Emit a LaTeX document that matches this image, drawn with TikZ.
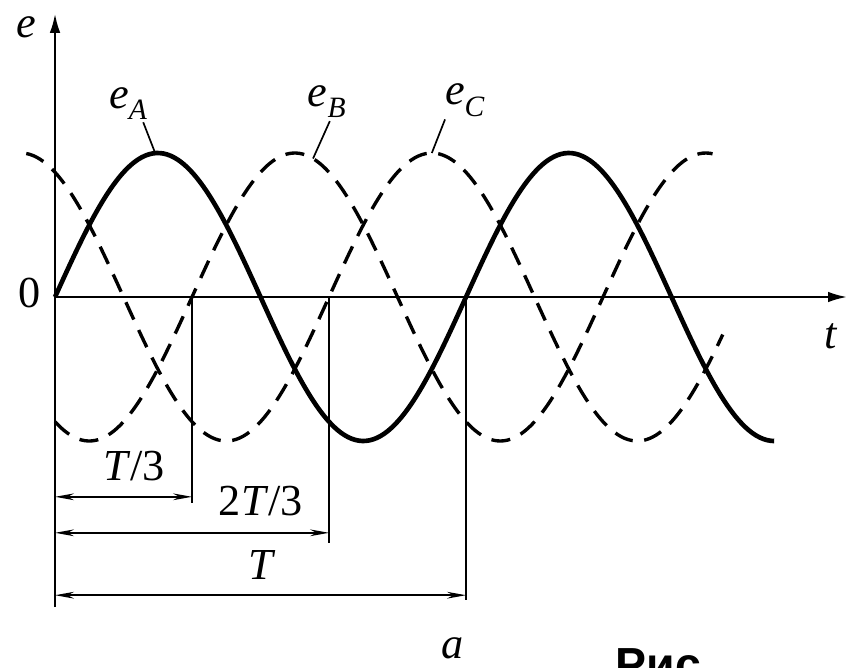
\documentclass[tikz,border=0pt]{standalone}
\usepackage{fontspec}
\setmainfont{Liberation Serif}
\newfontfamily\capfont{Liberation Sans}
\usetikzlibrary{arrows.meta}
\newcommand{\Tper}{6.85}
\newcommand{\Amp}{2.4}
\newcommand{\emfph}[1]{\textit{e}\raisebox{-0.55ex}{\fontsize{14}{14}\selectfont\textit{#1}}}

\begin{document}
\begin{tikzpicture}[x=1cm,y=1cm,line width=0.9pt,
  lbl/.style={font=\fontsize{21}{24}\selectfont,inner sep=1pt},
  phaseA/.style={line width=2.2pt},
  phaseBC/.style={line width=1.6pt,dash pattern=on 9pt off 5.5pt},
  dimline/.style={line width=0.7pt,{Stealth[length=9pt,width=3.2pt]}-{Stealth[length=9pt,width=3.2pt]}},
  axisline/.style={line width=1pt,-{Latex[length=9pt,width=5pt]}},
  leader/.style={line width=0.8pt}]
\useasboundingbox (-0.917,-6.167) rectangle (13.233,4.95);
\clip (-0.917,-6.167) rectangle (13.233,4.95);
%%%%%%%%%%%%%%%%%%%% axes %%%%%%%%%%%%%%%%%%%%
\coordinate (O) at (0,0);
\coordinate (etop) at (0,4.72);
\coordinate (ebot) at (0,-5.17);
\coordinate (tend) at (13.2,0);
\draw[axisline] (ebot) -- (etop);
\draw[axisline] (O) -- (tend);
\node[lbl] (lble) at (-0.47,4.5) {\textit{e}};
\node[lbl] (lbl0) at (-0.43,0.07) {0};
\node[lbl] (lblt) at (12.93,-0.65) {\textit{t}};
%%%%%%%%%%%%%%%%%%%% the three phases %%%%%%%%%%%%%%%%%%%%
\draw[phaseA,domain=0:1.75*\Tper,samples=200,smooth]
  plot (\x,{\Amp*sin(360*\x/\Tper)});
\draw[phaseBC,domain=0:1.6*\Tper,samples=200,smooth]
  plot (\x,{\Amp*sin(360*\x/\Tper-120)});
\draw[phaseBC,domain=-0.07*\Tper:1.625*\Tper,samples=200,smooth]
  plot (\x,{\Amp*sin(360*\x/\Tper+120)});
\coordinate (pkA) at (1.67,{\Amp*sin(360*1.67/\Tper)});
\coordinate (pkB) at (4.3,{\Amp*sin(360*4.3/\Tper-120)});
\coordinate (pkC) at (6.28,{\Amp*sin(360*6.28/\Tper+120)});
\node[lbl] (lblA) at (1.22,3.23) {\emfph{A}};
\node[lbl] (lblB) at (4.53,3.25) {\emfph{B}};
\node[lbl] (lblC) at (6.83,3.28) {\emfph{C}};
\draw[leader] ([xshift=2.5mm]lblA.south) -- (pkA);
\draw[leader] ([xshift=0.5mm]lblB.south) -- (pkB);
\draw[leader] ([xshift=-3.3mm]lblC.south) -- (pkC);
%%%%%%%%%%%%%%%%%%%% time marks %%%%%%%%%%%%%%%%%%%%
\coordinate (t1) at ({\Tper/3},0);
\coordinate (t2) at ({2*\Tper/3},0);
\coordinate (t3) at (\Tper,0);
\coordinate (t1b) at ({\Tper/3},-3.43);
\coordinate (t2b) at ({2*\Tper/3},-4.1);
\coordinate (t3b) at (\Tper,-5.05);
\draw (t1) -- (t1b);
\draw (t2) -- (t2b);
\draw (t3) -- (t3b);
\coordinate (d1l) at (0,-3.33);
\coordinate (d1r) at ({\Tper/3},-3.33);
\coordinate (d2l) at (0,-3.93);
\coordinate (d2r) at ({2*\Tper/3},-3.93);
\coordinate (d3l) at (0,-4.97);
\coordinate (d3r) at (\Tper,-4.97);
\draw[dimline] (d1l) -- (d1r);
\draw[dimline] (d2l) -- (d2r);
\draw[dimline] (d3l) -- (d3r);
\node[lbl] (lblT1) at (1.32,-2.82) {\textit{T}/3};
\node[lbl] (lblT2) at (3.43,-3.4) {2\textit{T}/3};
\node[lbl] (lblT3) at (3.45,-4.47) {\textit{T}};
%%%%%%%%%%%%%%%%%%%% caption %%%%%%%%%%%%%%%%%%%%
\node[lbl] (lbla) at (6.63,-5.85) {\textit{a}};
\node[font=\capfont\bfseries\fontsize{22}{26}\selectfont,anchor=base west,inner sep=0pt] (fig) at (9.33,-6.39) {Рис};
\end{tikzpicture}
\end{document}
